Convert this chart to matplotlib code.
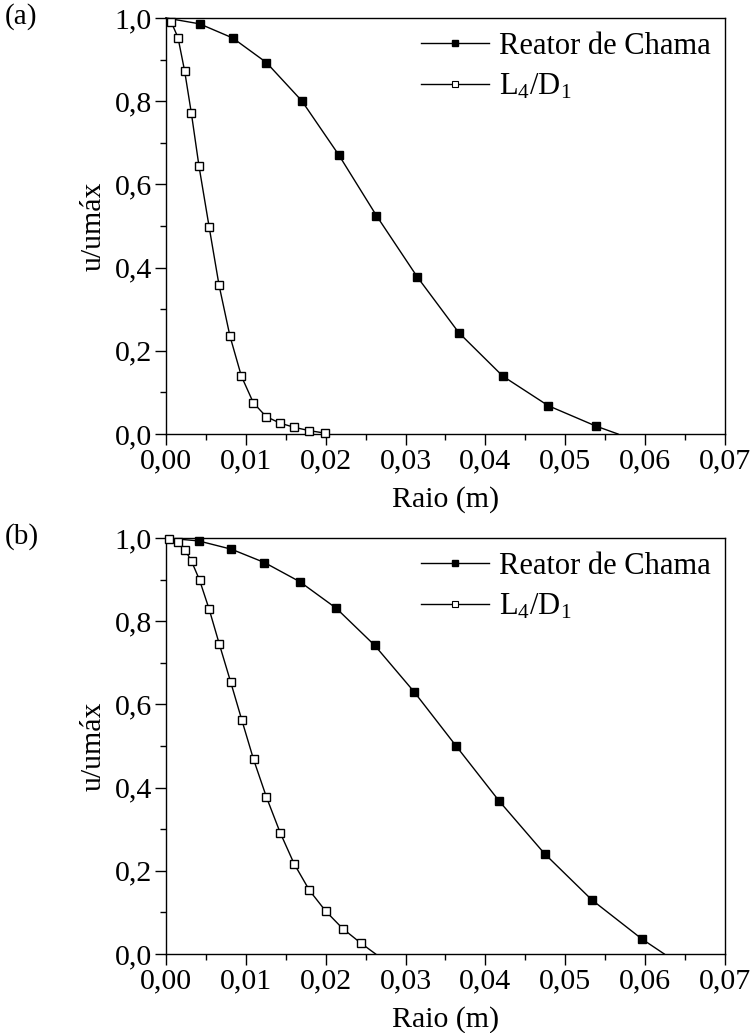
import matplotlib
matplotlib.use("Agg")
import matplotlib.pyplot as plt
from matplotlib.ticker import MultipleLocator, FuncFormatter

plt.rcParams['font.family'] = ['Liberation Serif', 'DejaVu Serif']
plt.rcParams['mathtext.fontset'] = 'custom'
plt.rcParams['mathtext.rm'] = 'Liberation Serif'
plt.rcParams['mathtext.it'] = 'Liberation Serif'

# ---- Panel (a) ----
a_reator_r = [0.0042, 0.00835, 0.01257, 0.0170, 0.02163, 0.02635, 0.03145, 0.03667, 0.04218, 0.04787, 0.05384]
a_reator_u = [0.986, 0.952, 0.893, 0.801, 0.671, 0.525, 0.378, 0.2435, 0.139, 0.068, 0.019]
a_reator_start = (0.0, 1.0)
a_reator_end = (0.0566, 0.0)

a_l4d1_r = [0.00066, 0.0015, 0.00233, 0.00317, 0.00413, 0.0054, 0.00664, 0.0080, 0.00944, 0.01094,
            0.01253, 0.01429, 0.01608, 0.01796, 0.01996]
a_l4d1_u = [0.990, 0.953, 0.873, 0.772, 0.644, 0.498, 0.358, 0.236, 0.139, 0.075,
            0.042, 0.026, 0.016, 0.008, 0.002]
a_l4d1_start = (0.0, 1.0)

# ---- Panel (b) ----
b_reator_r = [0.00408, 0.0082, 0.01233, 0.01675, 0.02133, 0.02613, 0.03108, 0.03633, 0.04175, 0.04741, 0.05333, 0.0596]
b_reator_u = [0.993, 0.973, 0.941, 0.895, 0.831, 0.742, 0.630, 0.500, 0.367, 0.241, 0.130, 0.036]
b_reator_start = (0.0, 1.0)
b_reator_end = (0.0624, 0.0)

b_l4d1_r = [0.0004, 0.00146, 0.00237, 0.0032, 0.0042, 0.0054, 0.00666, 0.00808, 0.0095, 0.01096,
            0.01258, 0.01429, 0.01604, 0.01796, 0.0200, 0.02213, 0.02441]
b_l4d1_u = [0.997, 0.990, 0.972, 0.944, 0.899, 0.829, 0.746, 0.655, 0.562, 0.468,
            0.377, 0.292, 0.217, 0.153, 0.103, 0.061, 0.026]
b_l4d1_start = (0.0, 1.0)
b_l4d1_end = (0.02625, 0.0)

x_ticks = [0.00, 0.01, 0.02, 0.03, 0.04, 0.05, 0.06, 0.07]
y_ticks = [0.0, 0.2, 0.4, 0.6, 0.8, 1.0]

fig = plt.figure(figsize=(7.5, 10.33), dpi=100)
W, H = 750, 1033

def px_axes(l, t, r, b):
    return fig.add_axes([l / W, 1 - b / H, (r - l) / W, (b - t) / H])

ax_a = px_axes(166, 18, 725, 434)
ax_b = px_axes(166, 538, 725, 954)

comma = lambda fmt: FuncFormatter(lambda v, p: (fmt % v).replace('.', ','))

def line_pts(start, rs, us, end=None):
    xs = [start[0]] + list(rs)
    ys = [start[1]] + list(us)
    if end is not None:
        xs.append(end[0]); ys.append(end[1])
    return xs, ys

def draw(ax, rr, ru, rs, re, lr, lu, ls, le, label, label_y):
    xs, ys = line_pts(rs, rr, ru, re)
    ax.plot(xs, ys, color='black', lw=1.0, zorder=2, clip_on=False)
    ax.plot(rr, ru, ls='none', marker='s', ms=6, mfc='black', mec='black', zorder=3, clip_on=False)
    xs, ys = line_pts(ls, lr, lu, le)
    ax.plot(xs, ys, color='black', lw=1.0, zorder=2, clip_on=False)
    ax.plot(lr, lu, ls='none', marker='s', ms=6, mfc='white', mec='black', mew=1.0, zorder=3, clip_on=False)
    h1, = ax.plot([], [], color='black', lw=1.0, marker='s', ms=4.5, mfc='black', mec='black')
    h2, = ax.plot([], [], color='black', lw=1.0, marker='s', ms=4.5, mfc='white', mec='black', mew=0.8)
    ax.legend([h1, h2], ['Reator de Chama', r'L$_4$/D$_1$'], loc='upper right',
              frameon=False, fontsize=22, handlelength=2.25, handletextpad=0.33,
              borderaxespad=0.35, labelspacing=0.36, borderpad=0.1)
    ax.set_xlim(0, 0.07)
    ax.set_ylim(0, 1.0)
    ax.set_xticks(x_ticks)
    ax.set_yticks(y_ticks)
    ax.xaxis.set_minor_locator(MultipleLocator(0.005))
    ax.yaxis.set_minor_locator(MultipleLocator(0.1))
    ax.xaxis.set_major_formatter(comma('%.2f'))
    ax.yaxis.set_major_formatter(comma('%.1f'))
    ax.tick_params(which='major', direction='out', length=8, width=1, labelsize=21.5, pad=2)
    ax.tick_params(which='minor', direction='out', length=4, width=1)
    ax.tick_params(which='both', top=False, right=False)
    ax.set_xlabel('Raio (m)', fontsize=21.5, labelpad=9)
    ax.set_ylabel('u/umáx', fontsize=21.5, labelpad=6)
    for s in ax.spines.values():
        s.set_linewidth(1.0)
    fig.text(5 / W, 1 - label_y / H, label, fontsize=21, ha='left', va='top')

draw(ax_a, a_reator_r, a_reator_u, a_reator_start, a_reator_end,
     a_l4d1_r, a_l4d1_u, a_l4d1_start, None, '(a)', 3)
draw(ax_b, b_reator_r, b_reator_u, b_reator_start, b_reator_end,
     b_l4d1_r, b_l4d1_u, b_l4d1_start, b_l4d1_end, '(b)', 523)

fig.savefig('out.png', dpi=100)
